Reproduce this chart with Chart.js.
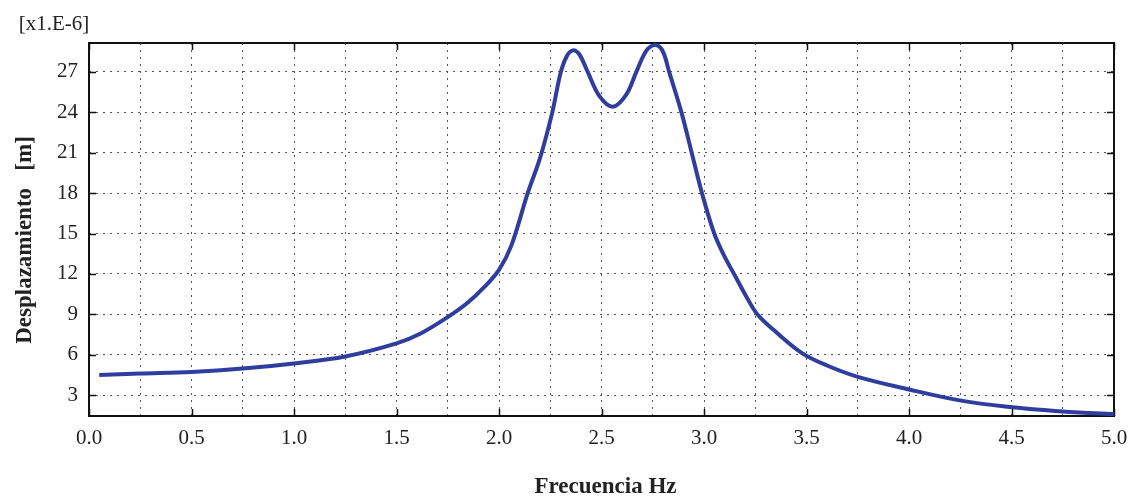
<!DOCTYPE html>
<html>
<head>
<meta charset="utf-8">
<title>Desplazamiento - Frecuencia</title>
<script src="https://cdn.jsdelivr.net/npm/chart.js@4.4.1/dist/chart.umd.min.js"></script>
<style>
  html, body { margin: 0; padding: 0; background: #fff; }
  #wrap { width: 1131px; height: 497px; }
</style>
</head>
<body>
<div id="wrap"><canvas id="chart" width="1131" height="497"></canvas></div>
<script>
// respuesta en frecuencia (Hz) y desplazamiento (x1e-6 m)
const frecuencias = [0.05, 0.25, 0.5, 0.75, 1.0, 1.25, 1.5, 1.62, 1.75, 1.85,
    1.93, 2.0, 2.06, 2.14, 2.2, 2.26, 2.3, 2.33, 2.36, 2.39,
    2.43, 2.49, 2.555, 2.62, 2.67, 2.72, 2.765, 2.8, 2.83, 2.89,
    2.94, 2.99, 3.05, 3.1, 3.15, 3.2, 3.26, 3.35, 3.48, 3.6,
    3.75, 4.0, 4.24, 4.48, 4.73, 5.0];
const desplazamientos = [4.49, 4.6, 4.72, 4.97, 5.35, 5.87, 6.84, 7.6, 8.8, 9.9,
    11.05, 12.3, 14.1, 18.0, 20.6, 24.0, 26.9, 28.15, 28.6, 28.35,
    27.1, 25.2, 24.42, 25.3, 27.0, 28.6, 29.0, 28.5, 27.0, 24.0,
    21.0, 18.0, 15.0, 13.3, 11.9, 10.5, 9.0, 7.7, 6.1, 5.2,
    4.36, 3.42, 2.63, 2.13, 1.81, 1.59];

const xTicks = [0, 0.25, 0.5, 0.75, 1.0, 1.25, 1.5, 1.75, 2.0, 2.25, 2.5, 2.75,
    3.0, 3.25, 3.5, 3.75, 4.0, 4.25, 4.5, 4.75, 5.0];
const xLabels = [0.5, 1.0, 1.5, 2.0, 2.5, 3.0, 3.5, 4.0, 4.5, 5.0];
const yTicks = [3, 6, 9, 12, 15, 18, 21, 24, 27];

const serif = "'Liberation Serif', 'Times New Roman', serif";

// marco, marcas interiores y textos
const marco = {
    id: 'marco',
    beforeDatasetsDraw(chart) {
        const {ctx, chartArea: a, scales} = chart;
        ctx.save();
        ctx.strokeStyle = '#111';
        ctx.lineWidth = 2;
        ctx.strokeRect(a.left, a.top, a.right - a.left, a.bottom - a.top);
        ctx.lineWidth = 1.5;
        ctx.beginPath();
        [0].concat(xLabels).forEach(v => {
            const x = Math.round(scales.x.getPixelForValue(v)) + 0.5;
            ctx.moveTo(x, a.bottom); ctx.lineTo(x, a.bottom - 7);
            ctx.moveTo(x, a.top); ctx.lineTo(x, a.top + 7);
        });
        yTicks.forEach(v => {
            const y = Math.round(scales.y.getPixelForValue(v)) + 0.5;
            ctx.moveTo(a.left, y); ctx.lineTo(a.left + 7, y);
            ctx.moveTo(a.right, y); ctx.lineTo(a.right - 7, y);
        });
        ctx.stroke();
        ctx.restore();
    },
    afterDraw(chart) {
        const {ctx, chartArea: a} = chart;
        ctx.save();
        ctx.fillStyle = '#222';
        ctx.textAlign = 'center';
        ctx.textBaseline = 'middle';
        ctx.font = '21px ' + serif;
        ctx.fillText('[x1.E-6]', 54, 24);
        ctx.font = 'bold 23px ' + serif;
        ctx.textBaseline = 'alphabetic';
        ctx.fillText('Frecuencia Hz', (a.left + a.right) / 2 + 4, 493);
        ctx.translate(25, 240);
        ctx.rotate(-Math.PI / 2);
        ctx.textBaseline = 'middle';
        ctx.fillText('Desplazamiento   [m]', 0, 0);
        ctx.restore();
    }
};

const ctx = document.getElementById('chart').getContext('2d');
new Chart(ctx, {
    type: 'line',
    data: {
        datasets: [{
            data: frecuencias.map((f, i) => ({x: f, y: desplazamientos[i]})),
            borderColor: '#2F3D9E',
            borderWidth: 4,
            pointRadius: 0,
            fill: false,
            tension: 0.35
        }]
    },
    options: {
        responsive: false,
        animation: false,
        layout: { padding: { top: 43, right: 17, left: 0, bottom: 0 } },
        plugins: {
            legend: { display: false },
            tooltip: { enabled: false }
        },
        scales: {
            x: {
                type: 'linear',
                min: 0,
                max: 5,
                afterBuildTicks: s => { s.ticks = xTicks.map(v => ({value: v})); },
                afterFit: s => {
                    s.height = 81;
                    s.paddingLeft = 0;
                    s.paddingRight = 0;
                },
                grid: { color: '#555', lineWidth: 1, drawTicks: false },
                border: { display: false, dash: [2, 5] },
                ticks: {
                    autoSkip: false,
                    maxRotation: 0,
                    padding: 10,
                    color: '#222',
                    font: { family: serif, size: 21 },
                    callback: v => xLabels.includes(v) || v === 0 ? v.toFixed(1) : ''
                }
            },
            y: {
                min: 1.45,
                max: 29.15,
                afterBuildTicks: s => { s.ticks = yTicks.map(v => ({value: v})); },
                afterFit: s => {
                    s.width = 89;
                    s.paddingTop = 0;
                    s.paddingBottom = 0;
                },
                grid: { color: '#555', lineWidth: 1, drawTicks: false },
                border: { display: false, dash: [2, 5] },
                ticks: {
                    padding: 11,
                    color: '#222',
                    font: { family: serif, size: 21 },
                    callback: v => String(v)
                }
            }
        }
    },
    plugins: [marco]
});
</script>
</body>
</html>
